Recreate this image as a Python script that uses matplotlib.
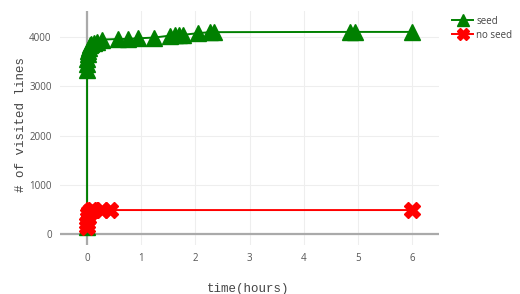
import matplotlib
matplotlib.use("Agg")
import matplotlib.pyplot as plt
from matplotlib.lines import Line2D

seed_t = [0.0, 0.0, 0.0, 0.005, 0.01, 0.02, 0.03, 0.05, 0.08, 0.12, 0.18, 0.28, 0.57, 0.76, 0.94,
          1.24, 1.53, 1.62, 1.70, 1.77, 2.05, 2.27, 2.34, 4.85, 4.95, 6.0]
seed_v = [150, 3330, 3450, 3550, 3650, 3720, 3780, 3830, 3860, 3880, 3900, 3950, 3960, 3965, 3975,
          3990, 4030, 4035, 4040, 4045, 4080, 4100, 4100, 4105, 4105, 4105]

noseed_t = [0.0, 0.0, 0.01, 0.02, 0.04, 0.08, 0.11, 0.28, 0.42, 6.0]
noseed_v = [150, 230, 330, 400, 450, 480, 485, 485, 485, 485]

x_ticks = [0, 1, 2, 3, 4, 5, 6]
y_ticks = [0, 1000, 2000, 3000, 4000]

fig = plt.figure(figsize=(5.2, 2.94), dpi=100)
ax = fig.add_axes([60/520, (294-245)/294, (439-60)/520, (245-11)/294])

for s in ax.spines.values():
    s.set_visible(False)
ax.set_xlim(-0.5, 6.5)
ax.set_ylim(-225, 4530)
ax.set_xticks(x_ticks)
ax.set_yticks(y_ticks)
ax.grid(True, color="#eeeeee", lw=0.8)
ax.set_axisbelow(True)
ax.axhline(0, color="#aaaaaa", lw=1.6, zorder=1)
ax.axvline(0, color="#aaaaaa", lw=1.6, zorder=1)
ax.tick_params(length=0, labelsize=7, labelcolor="#555555", pad=6)
for lab in ax.get_xticklabels() + ax.get_yticklabels():
    lab.set_family("Open Sans")

ax.plot(seed_t, seed_v, color="green", lw=1.4, marker="^", markersize=11, zorder=3)
ax.plot(noseed_t, noseed_v, color="red", lw=1.4, marker="X", markersize=11, zorder=3)

fig.text(248/520, 1 - 289/294, "time(hours)", family="Liberation Mono", fontsize=9,
         color="#444444", ha="center", va="center")
fig.text(21/520, 1 - 125/294, "# of visited lines", family="Liberation Mono", fontsize=9,
         color="#444444", ha="center", va="center", rotation=90)

handles = [Line2D([], [], color="green", lw=1.4, marker="^", markersize=8),
           Line2D([], [], color="red", lw=1.4, marker="X", markersize=8)]
leg = fig.legend(handles, ["seed", "no seed"], loc="upper left", bbox_to_anchor=(448/520, 1 - 12/294),
                 frameon=False, handlelength=2.2, handletextpad=0.3, labelspacing=0.3,
                 borderaxespad=0, prop={"family": "Open Sans", "size": 7})
for t in leg.get_texts():
    t.set_color("#444444")

fig.savefig("out.png", dpi=100)
